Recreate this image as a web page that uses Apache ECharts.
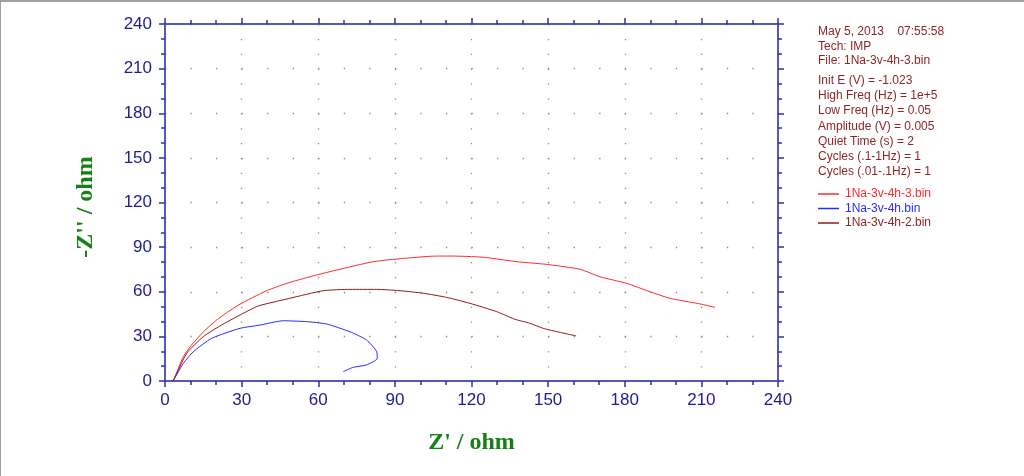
<!DOCTYPE html>
<html>
<head>
<meta charset="utf-8">
<script src="https://cdn.jsdelivr.net/npm/echarts@6/dist/echarts.min.js"></script>
<style>
  html, body { margin: 0; padding: 0; background: #fff; }
  #chart { position: absolute; left: 0; top: 0; width: 1024px; height: 476px; }
  #frame { position: absolute; left: 0; top: 0; width: 1024px; height: 476px;
           border-left: 1px solid #a0a0a0; border-top: 2px solid #a0a0a0;
           box-sizing: border-box; pointer-events: none; }
</style>
</head>
<body>
<div id="chart"></div>
<div id="frame"></div>
<script>
// Nyquist data: Z' (ohm) and -Z'' (ohm)
const seriesNames = ['1Na-3v-4h-3.bin', '1Na-3v-4h.bin', '1Na-3v-4h-2.bin']
const seriesColors = ['#ff2a2a', '#2a2aff', '#8c1c1c']

const redZre = [2.7, 3.3, 7.2, 10.4, 15, 20.2, 28.7, 39.8, 48.9, 59.4, 67.2, 81.6, 93.3, 106.4, 111.6, 124.6, 137.7, 149.4, 162.5, 170.3, 180.8, 189.9, 197.7, 209.5, 215.3]
const redZim = [0, 0.5, 16.4, 24.2, 33, 41, 51, 60.7, 66.3, 71.3, 74.6, 80.2, 82.4, 84, 84, 83.2, 80.2, 78.4, 75.1, 70.1, 65.6, 60, 55.6, 51.8, 49.5]

const blueZre = [2.7, 3.3, 7.2, 11.1, 18.3, 29.4, 37.2, 46.3, 55.5, 63.3, 72.4, 78.9, 82.9, 83.1, 78.9, 73.7, 69.8]
const blueZim = [0, 0.5, 11.9, 19.7, 28.7, 35.4, 37.6, 40.5, 39.9, 38.3, 33.1, 27.6, 19.7, 15.2, 10.8, 9.2, 6.3]

const darkZre = [2.7, 3.3, 8.5, 15, 21.5, 29.4, 36.5, 48.9, 62, 72.4, 82.9, 92, 101.1, 110.3, 119.4, 129.9, 137, 142.9, 148.1, 154.7, 161]
const darkZim = [0, 0.5, 18.6, 29.8, 37, 44.4, 50.4, 55.6, 60.7, 61.6, 61.6, 60.7, 59, 56.2, 52.2, 46.6, 41.5, 38.8, 35.4, 32.7, 30.3]

const infoHeader = ['May 5, 2013    07:55:58', 'Tech: IMP', 'File: 1Na-3v-4h-3.bin']
const infoParams = [
  'Init E (V) = -1.023',
  'High Freq (Hz) = 1e+5',
  'Low Freq (Hz) = 0.05',
  'Amplitude (V) = 0.005',
  'Quiet Time (s) = 2',
  'Cycles (.1-1Hz) = 1',
  'Cycles (.01-.1Hz) = 1'
]

const zip = (xs, ys) => xs.map((x, i) => [x, ys[i]])

const chart = echarts.init(document.getElementById('chart'))

const axisColor = '#5858b8'
const tickColor = '#3030a0'
const labelColor = '#1c1c8c'
const titleColor = '#158015'
const dotColor = '#8a9a4a'

// common axis style
const baseAxis = {
  type: 'value',
  min: 0,
  max: 240,
  interval: 30,
  axisLine: { show: true, onZero: false, lineStyle: { color: axisColor, width: 2 } },
  axisTick: { show: true, inside: false, length: 6, lineStyle: { color: tickColor, width: 1.5 } },
  minorTick: { show: true, splitNumber: 3, length: 4, lineStyle: { color: tickColor, width: 1.5 } },
  axisLabel: { show: false },
  splitLine: { show: false }
}

const option = {
  animation: false,
  backgroundColor: '#fff',
  grid: { left: 165, top: 24, width: 613, height: 357 },
  xAxis: [
    {
      ...baseAxis,
      position: 'bottom',
      name: "Z' / ohm",
      nameLocation: 'middle',
      nameGap: 50,
      nameTextStyle: { color: titleColor, fontFamily: 'Liberation Serif', fontWeight: 'bold', fontSize: 24 },
      axisLabel: { show: true, color: labelColor, fontFamily: 'Liberation Sans', fontSize: 17, margin: 11 },
      splitLine: { show: true, lineStyle: { color: dotColor, width: 1.3, type: [1.3, 13.575] } }
    },
    { ...baseAxis, position: 'top' }
  ],
  yAxis: [
    {
      ...baseAxis,
      position: 'left',
      name: "-Z'' / ohm",
      nameLocation: 'middle',
      nameGap: 67,
      nameTextStyle: { color: titleColor, fontFamily: 'Liberation Serif', fontWeight: 'bold', fontSize: 24, padding: [0, 9, 0, 0] },
      axisLabel: { show: true, color: labelColor, fontFamily: 'Liberation Sans', fontSize: 17, margin: 13 },
      splitLine: { show: true, lineStyle: { color: dotColor, width: 1.3, type: [1.3, 24.24] } }
    },
    { ...baseAxis, position: 'right' }
  ],
  legend: {
    orient: 'vertical',
    left: 818,
    top: 188,
    padding: 0,
    itemWidth: 21,
    itemHeight: 1.5,
    itemGap: 2.5,
    icon: 'rect',
    textStyle: { fontFamily: 'Liberation Sans', fontSize: 12, padding: [0, 0, 0, 1] },
    data: seriesNames.map((n, i) => ({
      name: n,
      textStyle: { color: i === 2 ? '#8c2626' : seriesColors[i] }
    }))
  },
  graphic: [
    {
      type: 'text',
      left: 818,
      top: 24,
      style: { text: infoHeader.join('\n'), fill: '#8c2626', font: '12px "Liberation Sans"', lineHeight: 14.8 }
    },
    {
      type: 'text',
      left: 818,
      top: 73,
      style: { text: infoParams.join('\n'), fill: '#8c2626', font: '12px "Liberation Sans"', lineHeight: 15.2 }
    }
  ],
  series: [
    { name: seriesNames[0], data: zip(redZre, redZim) },
    { name: seriesNames[1], data: zip(blueZre, blueZim) },
    { name: seriesNames[2], data: zip(darkZre, darkZim) }
  ].map((s, i) => ({
    ...s,
    type: 'line',
    xAxisIndex: 0,
    yAxisIndex: 0,
    showSymbol: false,
    smooth: 0.2,
    lineStyle: { color: seriesColors[i], width: 1 },
    itemStyle: { color: seriesColors[i] }
  }))
}

chart.setOption(option)
</script>
</body>
</html>
